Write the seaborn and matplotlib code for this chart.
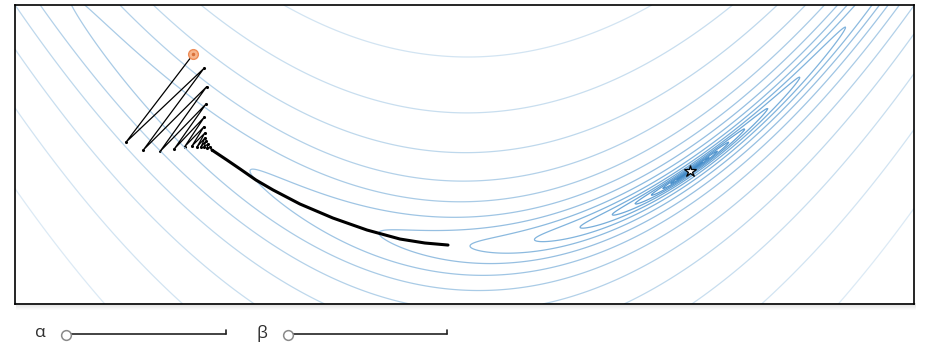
import numpy as np
import seaborn as sns
import matplotlib
matplotlib.use("Agg")
import matplotlib.pyplot as plt
import pandas as pd
from matplotlib.patches import Rectangle

# gradient descent iterates (data coords)
zig_x = [-1.258, -1.564, -1.209, -1.485, -1.197, -1.409, -1.200, -1.345, -1.207, -1.297,
         -1.209, -1.264, -1.205, -1.241, -1.205, -1.223, -1.200, -1.209, -1.191, -1.195,
         -1.182, -1.173]
zig_y = [2.556, 1.383, 2.369, 1.280, 2.124, 1.260, 1.893, 1.291, 1.720, 1.324,
         1.591, 1.333, 1.507, 1.320, 1.440, 1.320, 1.400, 1.320, 1.360, 1.307,
         1.320, 1.280]
tail_x = [-1.173, -1.105, -1.045, -0.973, -0.895, -0.773, -0.623, -0.468, -0.318, -0.205, -0.100]
tail_y = [1.280, 1.147, 1.027, 0.880, 0.747, 0.560, 0.373, 0.213, 0.093, 0.040, 0.013]

start = (-1.258, 2.556)
optimum = (1.0, 1.0)

levels = [0.0098, 0.0195, 0.039, 0.078, 0.156, 0.3125, 0.625, 1.25, 2.5,
          5, 10, 20, 40, 80, 160, 320, 640, 1280, 2560]

x_range = (-2.068, 2.018)
y_range = (-0.773, 3.213)

# banana shaped valley (Rosenbrock style)
def loss(x, y):
    return 5 * (1 - x) ** 2 + 100 * (y - x ** 2) ** 2

gx = np.linspace(x_range[0], x_range[1], 800)
gy = np.linspace(y_range[0], y_range[1], 600)
X, Y = np.meshgrid(gx, gy)
Z = loss(X, Y)

sns.set_style("white")
fig = plt.figure(figsize=(9.31, 3.57), dpi=100)

# soft shadow under the frame
for i in range(7):
    fig.patches.append(Rectangle((16 / 931, (53 - i) / 357), 900 / 931, 1 / 357,
                                 transform=fig.transFigure, color="black",
                                 alpha=0.13 * (7 - i) / 7, lw=0, zorder=0))

ax = fig.add_axes([15 / 931, 53 / 357, 899 / 931, 299 / 357])

pal = sns.blend_palette(["#3a85c5", "#6ea8d8", "#a9cbe6", "#e6f0f8"], len(levels))
ax.contour(X, Y, Z, levels=levels, colors=pal, linewidths=0.9)

zig = pd.DataFrame({"x": zig_x, "y": zig_y})
tail = pd.DataFrame({"x": tail_x, "y": tail_y})
sns.lineplot(data=zig, x="x", y="y", sort=False, estimator=None, color="black", lw=0.9, ax=ax)
sns.lineplot(data=tail, x="x", y="y", sort=False, estimator=None, color="black", lw=2.2,
             solid_joinstyle="round", solid_capstyle="round", ax=ax)
sns.scatterplot(data=zig.iloc[1:], x="x", y="y", color="black", s=5, linewidth=0, ax=ax)

ax.plot(*start, "o", ms=7, mfc="#f7b58d", mec="#ee8c57", mew=1)
ax.plot(*start, "o", ms=1.5, color="#d9703a")
ax.plot(*optimum, "*", ms=9, mfc="white", mec="black", mew=0.9)

ax.set_xlim(*x_range)
ax.set_ylim(*y_range)
ax.set_xticks([])
ax.set_yticks([])
ax.set_xlabel("")
ax.set_ylabel("")
for s in ax.spines.values():
    s.set_color("black")
    s.set_linewidth(1.2)

# slider controls
ctl = fig.add_axes([0, 0, 1, 53 / 357])
ctl.set_xlim(0, 931)
ctl.set_ylim(53, 0)
ctl.axis("off")
for label, lx, x0, x1 in [("α", 40, 66, 226), ("β", 262, 288, 447)]:
    ctl.text(lx, 29, label, fontsize=12.5, color="#2f2f2f", ha="center", va="center",
             family="Open Sans")
    ctl.plot([x0, x1], [30, 30], color="#222222", lw=1.2)
    ctl.plot([x1, x1], [26, 30], color="#222222", lw=1.2)
    ctl.plot(x0, 31, "o", ms=7, mfc="white", mec="#8a8a8a", mew=1.1)

fig.savefig("out.png", dpi=100)
